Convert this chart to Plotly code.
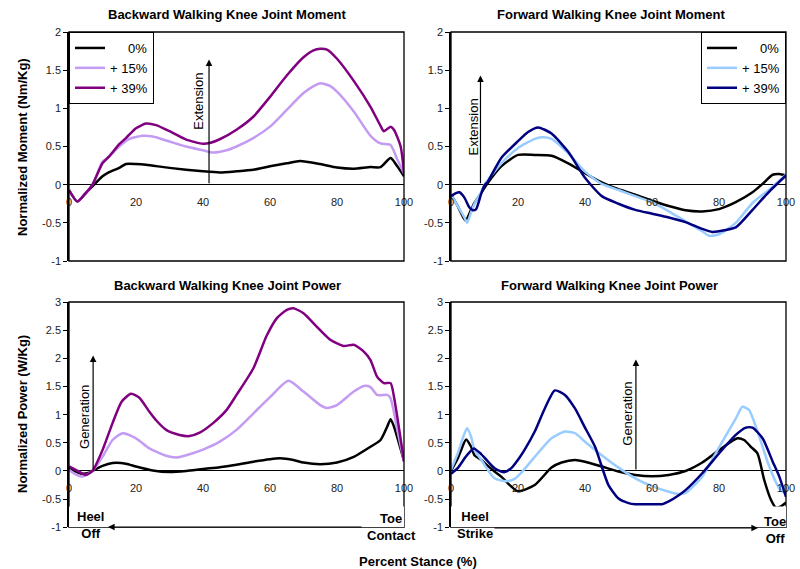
import plotly.graph_objects as go

# ---------------- data ----------------
series_labels = ["\u00a0\u00a0\u00a0\u00a0\u00a00%", "+ 15%", "+ 39%"]
x_ticks = [0, 20, 40, 60, 80, 100]
x_tick_text = ["0", "20", "40", "60", "80", "100"]
moment_ticks = [-1, -0.5, 0, 0.5, 1, 1.5, 2]
moment_tick_text = ["-1", "-0.5", "0", "0.5", "1", "1.5", "2"]
power_ticks = [-1, -0.5, 0, 0.5, 1, 1.5, 2, 2.5, 3]
power_tick_text = ["-1", "-0.5", "0", "0.5", "1", "1.5", "2", "2.5", "3"]

# Backward walking knee moment
bm_x0 = [0, 2.5, 5, 7.5, 10, 12, 15, 17, 20, 23, 30, 40, 45, 50, 55, 60, 65, 69, 75, 80, 85, 90, 93, 96, 98, 100]
bm_y0 = [-0.07, -0.22, -0.11, 0, 0.11, 0.165, 0.22, 0.27, 0.27, 0.26, 0.22, 0.175, 0.16, 0.175, 0.195, 0.24, 0.28, 0.31, 0.27, 0.225, 0.21, 0.23, 0.23, 0.35, 0.24, 0.11]
bm_x15 = [0, 2.5, 5, 7, 10, 12, 15, 18, 22, 25, 30, 35, 40, 43, 47, 50, 55, 60, 65, 70, 73, 75, 78, 80, 85, 90, 93, 96, 98, 100]
bm_y15 = [-0.07, -0.22, -0.11, 0, 0.30, 0.37, 0.50, 0.60, 0.64, 0.63, 0.565, 0.50, 0.45, 0.42, 0.45, 0.50, 0.61, 0.76, 0.98, 1.20, 1.29, 1.33, 1.29, 1.22, 0.96, 0.64, 0.54, 0.52, 0.33, 0.15]
bm_x39 = [0, 2.5, 5, 7, 10, 12, 15, 17, 20, 23, 26, 30, 35, 40, 42, 45, 50, 55, 60, 65, 70, 73, 75, 77, 80, 85, 90, 93, 94, 96, 97, 99, 100]
bm_y39 = [-0.07, -0.22, -0.11, 0, 0.28, 0.37, 0.53, 0.61, 0.74, 0.80, 0.78, 0.70, 0.59, 0.535, 0.545, 0.595, 0.72, 0.89, 1.15, 1.43, 1.67, 1.76, 1.78, 1.77, 1.65, 1.36, 1.02, 0.77, 0.70, 0.76, 0.72, 0.50, 0.15]

# Forward walking knee moment
fm_x0 = [0, 2, 4.3, 6, 7, 9, 10.6, 15, 20, 25, 30, 35, 40, 45, 50, 55, 60, 65, 70, 75, 80, 85, 90, 93, 96, 98, 100]
fm_y0 = [-0.13, -0.28, -0.47, -0.33, -0.24, -0.11, 0.0, 0.24, 0.39, 0.39, 0.38, 0.28, 0.15, 0.03, -0.06, -0.13, -0.21, -0.28, -0.335, -0.35, -0.32, -0.23, -0.10, 0.01, 0.13, 0.14, 0.12]
fm_x15 = [0, 2, 4, 4.8, 6, 7, 9, 10, 15, 20, 25, 27, 30, 35, 40, 45, 50, 55, 60, 65, 70, 75, 77, 80, 85, 90, 95, 100]
fm_y15 = [-0.13, -0.28, -0.43, -0.50, -0.36, -0.25, -0.10, 0.0, 0.28, 0.48, 0.60, 0.62, 0.60, 0.41, 0.17, 0.01, -0.07, -0.15, -0.23, -0.35, -0.48, -0.61, -0.67, -0.65, -0.50, -0.24, -0.065, 0.13]
fm_x39 = [0, 1.5, 2.5, 4, 5.5, 6.5, 7.5, 9, 10, 11, 15, 20, 23, 26, 30, 35, 40, 45, 50, 55, 60, 65, 70, 75, 78, 80, 85, 90, 95, 100]
fm_y39 = [-0.15, -0.11, -0.10, -0.17, -0.30, -0.335, -0.32, -0.12, -0.01, 0.04, 0.35, 0.57, 0.69, 0.75, 0.67, 0.43, 0.09, -0.15, -0.25, -0.33, -0.38, -0.43, -0.49, -0.58, -0.62, -0.61, -0.56, -0.33, -0.09, 0.12]

# Backward walking knee power
bp_x0 = [0, 2, 4, 6, 7, 10, 13, 17, 20, 25, 30, 35, 40, 45, 50, 55, 60, 63, 67, 70, 75, 80, 85, 90, 93, 95, 96, 97, 100]
bp_y0 = [0.05, -0.01, -0.05, -0.03, 0, 0.09, 0.14, 0.13, 0.08, 0.01, -0.02, 0, 0.035, 0.065, 0.11, 0.165, 0.21, 0.225, 0.195, 0.15, 0.12, 0.15, 0.25, 0.43, 0.55, 0.79, 0.92, 0.79, 0.18]
bp_x15 = [0, 2, 4, 6, 7, 10, 13, 16, 20, 24, 29, 32, 35, 40, 45, 50, 55, 60, 65.5, 70, 75, 77, 80, 85, 88, 90, 92, 95, 96, 98, 100]
bp_y15 = [0.02, -0.06, -0.10, -0.04, 0, 0.25, 0.55, 0.67, 0.58, 0.40, 0.27, 0.24, 0.28, 0.38, 0.52, 0.73, 1.02, 1.31, 1.60, 1.41, 1.17, 1.12, 1.17, 1.41, 1.51, 1.49, 1.35, 1.35, 1.29, 0.73, 0.17]
bp_x39 = [0, 2, 5, 7, 10, 13, 15.7, 18.5, 21, 24, 26, 29, 33, 36, 39, 43, 47, 50, 55, 59, 62, 65, 67, 70, 74, 78, 82, 85, 88, 90, 92, 94, 96, 97, 100]
bp_y39 = [0.08, 0.02, -0.07, 0, 0.37, 0.85, 1.23, 1.37, 1.30, 1.05, 0.90, 0.73, 0.64, 0.62, 0.68, 0.85, 1.08, 1.35, 1.82, 2.40, 2.71, 2.86, 2.89, 2.80, 2.56, 2.33, 2.22, 2.24, 2.12, 1.97, 1.67, 1.56, 1.56, 1.32, 0.17]

# Forward walking knee power
fp_x0 = [0, 2, 3, 4.5, 6, 7, 9, 11, 13, 15, 17, 20, 25, 30, 33, 37, 40, 45, 50, 55, 60, 65, 70, 75, 80, 85.5, 87.5, 89.5, 91.5, 93.5, 95.5, 97, 98.5, 100]
fp_y0 = [0.0, 0.22, 0.37, 0.56, 0.43, 0.28, 0.2, 0.09, -0.01, -0.1, -0.22, -0.36, -0.25, 0.06, 0.15, 0.195, 0.165, 0.08, -0.01, -0.07, -0.095, -0.07, 0.0, 0.15, 0.37, 0.58, 0.55, 0.43, 0.31, -0.16, -0.51, -0.65, -0.63, -0.56]
fp_x15 = [0, 2, 3.5, 4.8, 6, 7, 9, 11, 13, 15, 17, 19, 21, 25, 30, 34, 37, 40, 45, 50, 55, 60, 65, 68, 70, 75, 80, 85, 87, 89, 92, 95, 98, 100]
fp_y15 = [0.02, 0.31, 0.58, 0.76, 0.61, 0.37, 0.2, 0.02, -0.13, -0.17, -0.18, -0.14, -0.03, 0.25, 0.58, 0.70, 0.67, 0.52, 0.28, 0.06, -0.13, -0.27, -0.37, -0.41, -0.39, -0.1, 0.42, 0.93, 1.14, 1.08, 0.61, 0.08, -0.31, -0.41]
fp_x39 = [0, 2, 4, 5.5, 6.8, 9, 11, 13, 15, 16, 18, 20, 22, 25, 28, 31, 34, 37, 40, 43, 45, 47, 50, 53, 55, 60, 63, 65, 68, 70, 75, 80, 85, 88, 90, 93, 96, 98, 100]
fp_y39 = [-0.05, 0.05, 0.22, 0.33, 0.40, 0.3, 0.17, 0.05, -0.01, -0.02, 0.05, 0.2, 0.38, 0.7, 1.11, 1.43, 1.35, 1.11, 0.77, 0.43, 0.08, -0.25, -0.49, -0.57, -0.59, -0.59, -0.59, -0.54, -0.43, -0.34, -0.04, 0.31, 0.64, 0.77, 0.77, 0.58, 0.17, -0.1, -0.46]

backward_colors = ["#000000", "#C49BF3", "#800080"]
forward_colors = ["#000000", "#99CCFF", "#000080"]

# ---------------- layout helpers ----------------
W, H = 800, 569
FONT = "Liberation Sans, Arial, sans-serif"


def px_x(p):
    return p / W


def px_y(p):
    return 1 - p / H


dom_left = [px_x(69), px_x(404)]
dom_right = [px_x(451), px_x(786)]
dom_top = [px_y(261), px_y(32)]
dom_bot = [px_y(527.3), px_y(302)]


def zero_pos(dom, rng):
    return dom[0] + (0 - rng[0]) / (rng[1] - rng[0]) * (dom[1] - dom[0])


mom_range = [-1, 2]
pow_range = [-1, 3]

fig = go.Figure()

panels = [
    ("x", "y", [(bm_x0, bm_y0), (bm_x15, bm_y15), (bm_x39, bm_y39)], backward_colors, "legend"),
    ("x2", "y2", [(fm_x0, fm_y0), (fm_x15, fm_y15), (fm_x39, fm_y39)], forward_colors, "legend2"),
    ("x3", "y3", [(bp_x0, bp_y0), (bp_x15, bp_y15), (bp_x39, bp_y39)], backward_colors, None),
    ("x4", "y4", [(fp_x0, fp_y0), (fp_x15, fp_y15), (fp_x39, fp_y39)], forward_colors, None),
]

for xa, ya, data, cols, leg in panels:
    for (xs, ys), c, name in zip(data, cols, series_labels):
        kw = dict(legend=leg) if leg else dict(showlegend=False)
        fig.add_trace(go.Scatter(
            x=xs, y=ys, mode="lines", name=name, xaxis=xa, yaxis=ya,
            line=dict(color=c, width=2.5, shape="spline", smoothing=0.6),
            **kw))

tickfont = dict(family=FONT, size=11, color="#222")


def xaxis_cfg(dom, ydom, rng):
    return dict(domain=dom, range=[0, 100], anchor="free", position=zero_pos(ydom, rng),
                showline=False, showgrid=False, zeroline=False, tickvals=x_ticks,
                ticktext=x_tick_text, ticks="", tickfont=tickfont, ticklabelstandoff=9,
                automargin=False, fixedrange=True)


def yaxis_cfg(dom, rng, xname, tv, tt):
    return dict(domain=dom, range=rng, anchor=xname, showline=True, linecolor="black",
                linewidth=1.5, showgrid=False, zeroline=True, zerolinecolor="black",
                zerolinewidth=1.2, tickvals=tv, ticktext=tt, ticks="outside", ticklen=4,
                tickcolor="black", tickfont=tickfont, automargin=False, fixedrange=True)


fig.update_layout(
    width=W, height=H, margin=dict(l=0, r=0, t=0, b=0, autoexpand=False),
    paper_bgcolor="white", plot_bgcolor="white",
    font=dict(family=FONT, color="black"),
    xaxis=xaxis_cfg(dom_left, dom_top, mom_range),
    yaxis=yaxis_cfg(dom_top, mom_range, "x", moment_ticks, moment_tick_text),
    xaxis2=xaxis_cfg(dom_right, dom_top, mom_range),
    yaxis2=yaxis_cfg(dom_top, mom_range, "x2", moment_ticks, moment_tick_text),
    xaxis3=xaxis_cfg(dom_left, dom_bot, pow_range),
    yaxis3=yaxis_cfg(dom_bot, pow_range, "x3", power_ticks, power_tick_text),
    xaxis4=xaxis_cfg(dom_right, dom_bot, pow_range),
    yaxis4=yaxis_cfg(dom_bot, pow_range, "x4", power_ticks, power_tick_text),
    legend=dict(x=px_x(69), y=px_y(32), xanchor="left", yanchor="top",
                bordercolor="black", borderwidth=1, bgcolor="white",
                font=dict(family=FONT, size=13, color="black")),
    legend2=dict(x=px_x(786), y=px_y(32), xanchor="right", yanchor="top",
                 bordercolor="black", borderwidth=1, bgcolor="white",
                 font=dict(family=FONT, size=13, color="black")),
)

# plot frames
shapes = []
for xa, ya in [("x", "y"), ("x2", "y2"), ("x3", "y3"), ("x4", "y4")]:
    shapes.append(dict(type="rect", xref=f"{xa} domain", yref=f"{ya} domain", x0=0, x1=1,
                       y0=0, y1=1, line=dict(color="black", width=1.3), layer="above"))
# white boxes hiding the lower part of the power panels (behind the stance labels)
for xa, ya in [("x3", "y3"), ("x4", "y4")]:
    shapes.append(dict(type="rect", xref=xa, yref=ya, x0=-0.6, x1=101.5, y0=-1.1, y1=-0.63,
                       fillcolor="white", line=dict(width=0), layer="above"))
fig.update_layout(shapes=shapes)

ann = []
C = dict(xanchor="center", yanchor="middle")
# subplot titles
title_font = dict(family=FONT, size=13, color="black")
for txt, cx, cy in [("Backward Walking Knee Joint Moment", 228, 14),
                    ("Forward Walking Knee Joint Moment", 611, 14),
                    ("Backward Walking Knee Joint Power", 227, 285),
                    ("Forward Walking Knee Joint Power", 609, 285)]:
    ann.append(dict(text=f"<b>{txt}</b>", x=px_x(cx), y=px_y(cy), xref="paper", yref="paper",
                    showarrow=False, font=title_font, **C))

# axis titles
ytf = dict(family=FONT, size=13, color="black")
ann.append(dict(text="<b>Normalized Moment (Nm/Kg)</b>", x=px_x(22), y=px_y(147), xref="paper",
                yref="paper", showarrow=False, textangle=-90, font=ytf, **C))
ann.append(dict(text="<b>Normalized Power (W/Kg)</b>", x=px_x(22), y=px_y(414), xref="paper",
                yref="paper", showarrow=False, textangle=-90, font=ytf, **C))
ann.append(dict(text="<b>Percent Stance (%)</b>", x=px_x(418), y=px_y(561), xref="paper",
                yref="paper", showarrow=False, font=ytf, **C))

# vertical direction arrows + labels
for xa, ya, ax_x, head, lab, lx, ly in [
        ("x", "y", 41.8, 1.64, "Extension", 38.8, 1.1),
        ("x2", "y2", 8.8, 1.43, "Extension", 6.8, 0.76),
        ("x3", "y3", 7.2, 2.05, "Generation", 4.8, 0.96),
        ("x4", "y4", 55.2, 1.98, "Generation", 52.6, 1.02)]:
    ann.append(dict(x=ax_x, y=head, ax=ax_x, ay=0.0, xref=xa, yref=ya, axref=xa, ayref=ya,
                    text="", showarrow=True, arrowhead=2, arrowsize=1.1, arrowwidth=1.2,
                    arrowcolor="black", standoff=0, startstandoff=0))
    ann.append(dict(x=lx, y=ly, xref=xa, yref=ya, text=lab, showarrow=False, textangle=-90,
                    font=dict(family=FONT, size=13, color="black"), **C))

# stance event labels
evf = dict(family=FONT, size=13, color="black")
for txt, cx, cy in [("Heel<br>Off", 90, 525), ("Toe<br>Contact", 391, 527),
                    ("Heel<br>Strike", 475, 525), ("Toe<br>Off", 775, 530)]:
    ann.append(dict(text=f"<b>{txt}</b>", x=px_x(cx), y=px_y(cy), xref="paper", yref="paper",
                    showarrow=False, font=evf, align="center", **C))
# horizontal arrows
ann.append(dict(x=px_x(108), y=px_y(527), xref="paper", yref="paper", ax=255, ay=0, text="",
                showarrow=True, arrowhead=2, arrowsize=1.1, arrowwidth=1.2, arrowcolor="black",
                standoff=0))
ann.append(dict(x=px_x(758), y=px_y(528), xref="paper", yref="paper", ax=-265, ay=0, text="",
                showarrow=True, arrowhead=2, arrowsize=1.1, arrowwidth=1.2, arrowcolor="black",
                standoff=0))
fig.update_layout(annotations=ann)

fig.write_html("out.html", config={"displayModeBar": False},
               post_script="document.body.style.margin='0px';document.body.style.padding='0px';")
